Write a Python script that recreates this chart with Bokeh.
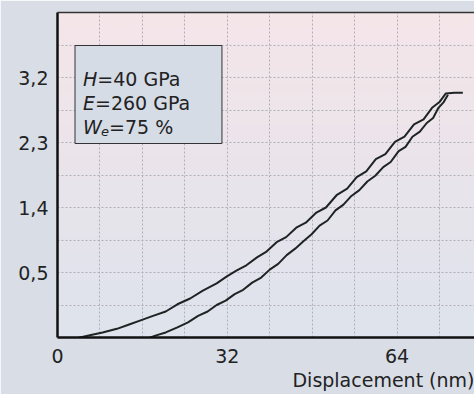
import numpy as np
from bokeh.plotting import figure
from bokeh.models import FixedTicker, LinearAxis, Label, BoxAnnotation, Range1d, Title
from bokeh.embed import file_html
from bokeh.resources import INLINE

# ---- data / labels ----
x_ticks = [0, 32, 64]
y_ticks = [0.5, 1.4, 2.3, 3.2]
y_tick_labels = ["0,5", "1,4", "2,3", "3,2"]
x_grid = [8, 16, 24, 32, 40, 48, 56, 64, 72]
y_grid = [0.05, 0.5, 0.95, 1.4, 1.85, 2.3, 2.75, 3.2, 3.65]
x_label = "Displacement (nm)"

load_x = [3.6, 6.1, 8.5, 11.2, 13.5, 15.8, 18.0, 20.4, 22.6, 25.0, 27.4, 30.0, 32.0,
          33.8, 35.6, 37.6, 39.4, 41.3, 43.1, 45.0, 46.8, 48.8, 50.6, 52.6, 54.6, 56.4,
          58.2, 60.0, 61.8, 63.6, 65.4, 67.2, 69.0, 70.6, 72.0, 73.2, 74.8, 76.4]
load_y = [-0.41, -0.37, -0.33, -0.28, -0.22, -0.16, -0.10, -0.04, 0.06, 0.14, 0.25, 0.35, 0.45,
          0.53, 0.60, 0.71, 0.79, 0.92, 0.99, 1.12, 1.19, 1.33, 1.40, 1.57, 1.66, 1.82,
          1.90, 2.07, 2.14, 2.31, 2.38, 2.55, 2.62, 2.78, 2.86, 2.98, 2.99, 2.99]

unload_x = [73.6, 72.8, 71.8, 70.8, 69.6, 68.3, 66.9, 65.6, 64.3, 62.8, 61.4, 59.9, 58.4,
            56.9, 55.4, 53.9, 52.4, 50.9, 49.4, 47.9, 46.3, 44.8, 43.2, 41.6, 40.0, 38.4,
            36.7, 35.0, 33.4, 31.7, 30.0, 28.3, 26.5, 24.6, 22.6, 20.4, 18.6, 17.1]
unload_y = [2.96, 2.86, 2.78, 2.64, 2.57, 2.45, 2.38, 2.24, 2.18, 2.03, 1.96, 1.84, 1.76,
            1.64, 1.56, 1.44, 1.36, 1.22, 1.15, 1.03, 0.93, 0.83, 0.74, 0.62, 0.54, 0.43,
            0.36, 0.26, 0.20, 0.11, 0.05, -0.04, -0.10, -0.19, -0.26, -0.33, -0.37, -0.41]

FONT = "DejaVu Sans"
FS = "19px"
TXT = "#222222"
BG = "#d8dde6"

X0, X1 = 0, 78.6
Y0, Y1 = -0.4, 4.1

p = figure(width=474, height=394, x_range=Range1d(X0, X1), y_range=Range1d(Y0, Y1),
           output_backend="svg", toolbar_location=None,
           min_border_left=57, min_border_right=0, min_border_top=12, min_border_bottom=57)
p.border_fill_color = BG
p.outline_line_color = None

# vertical gradient background (pink at top -> bluish at bottom)
n = 64
top = np.array([245, 230, 233])
bot = np.array([222, 227, 237])
t = np.linspace(0, 1, n)[:, None]
cols = (bot * (1 - t) + top * t).astype(np.uint32)
img = np.empty((n, 1), dtype=np.uint32)
view = img.view(dtype=np.uint8).reshape((n, 1, 4))
view[:, 0, 0] = cols[:, 0]
view[:, 0, 1] = cols[:, 1]
view[:, 0, 2] = cols[:, 2]
view[:, 0, 3] = 255
p.image_rgba(image=[img], x=X0, y=Y0, dw=X1 - X0, dh=Y1 - Y0, level="image")

# grid
p.xgrid.ticker = FixedTicker(ticks=x_grid)
p.ygrid.ticker = FixedTicker(ticks=y_grid)
for g in (p.xgrid, p.ygrid):
    g.grid_line_color = "#aeb0b9"
    g.grid_line_dash = "2 2"
    g.grid_line_width = 1

# axes
p.xaxis.ticker = FixedTicker(ticks=x_ticks)
p.yaxis.ticker = FixedTicker(ticks=y_ticks)
p.yaxis.major_label_overrides = dict(zip(y_ticks, y_tick_labels))
for ax in (p.xaxis, p.yaxis):
    ax.axis_line_color = "#111111"
    ax.axis_line_width = 2.5
    ax.major_tick_line_color = None
    ax.minor_tick_line_color = None
    ax.major_tick_out = 0
    ax.minor_tick_out = 0
    ax.major_label_text_font = FONT
    ax.major_label_text_font_size = FS
    ax.major_label_text_color = TXT
p.xaxis.major_label_standoff = 11
p.yaxis.major_label_standoff = 9

# x axis title, right aligned under the axis
p.add_layout(Title(text=x_label, align="right", text_font=FONT, text_font_size=FS,
                   text_font_style="normal", text_color=TXT, standoff=2, offset=0), "below")

top_axis = LinearAxis(ticker=FixedTicker(ticks=[]), axis_line_color="#333333", axis_line_width=1.5,
                      major_tick_line_color=None, minor_tick_line_color=None,
                      major_tick_out=0, minor_tick_out=0, major_label_standoff=0,
                      major_label_text_font_size="0px")
p.add_layout(top_axis, "above")

# curves
p.line(load_x, load_y, line_color="#1e2424", line_width=2.0, line_join="round")
p.line(unload_x, unload_y, line_color="#1e2424", line_width=2.0, line_join="round")

# info box
p.add_layout(BoxAnnotation(left=3.3, right=31.0, top=3.643, bottom=2.286,
                           fill_color="#d6dce6", fill_alpha=1.0,
                           line_color="#333333", line_width=1, line_alpha=1.0))

tx = 4.81
def lab(y, text, xo=0, yo=0, italic=False, size=FS):
    p.add_layout(Label(x=tx, y=y, x_offset=xo, y_offset=yo, text=text,
                       text_font=FONT, text_font_size=size,
                       text_font_style="italic" if italic else "normal",
                       text_color=TXT, text_baseline="alphabetic", text_align="left"))

lab(3.186, "H", italic=True)
lab(3.186, "=40 GPa", xo=14.3)
lab(2.847, "E", italic=True)
lab(2.847, "=260 GPa", xo=12.0)
lab(2.508, "W", italic=True)
lab(2.508, "e", xo=18.0, yo=-4, italic=True, size="13px")
lab(2.508, "=75 %", xo=26.0)

open("out.html", "w").write(file_html(p, INLINE))
